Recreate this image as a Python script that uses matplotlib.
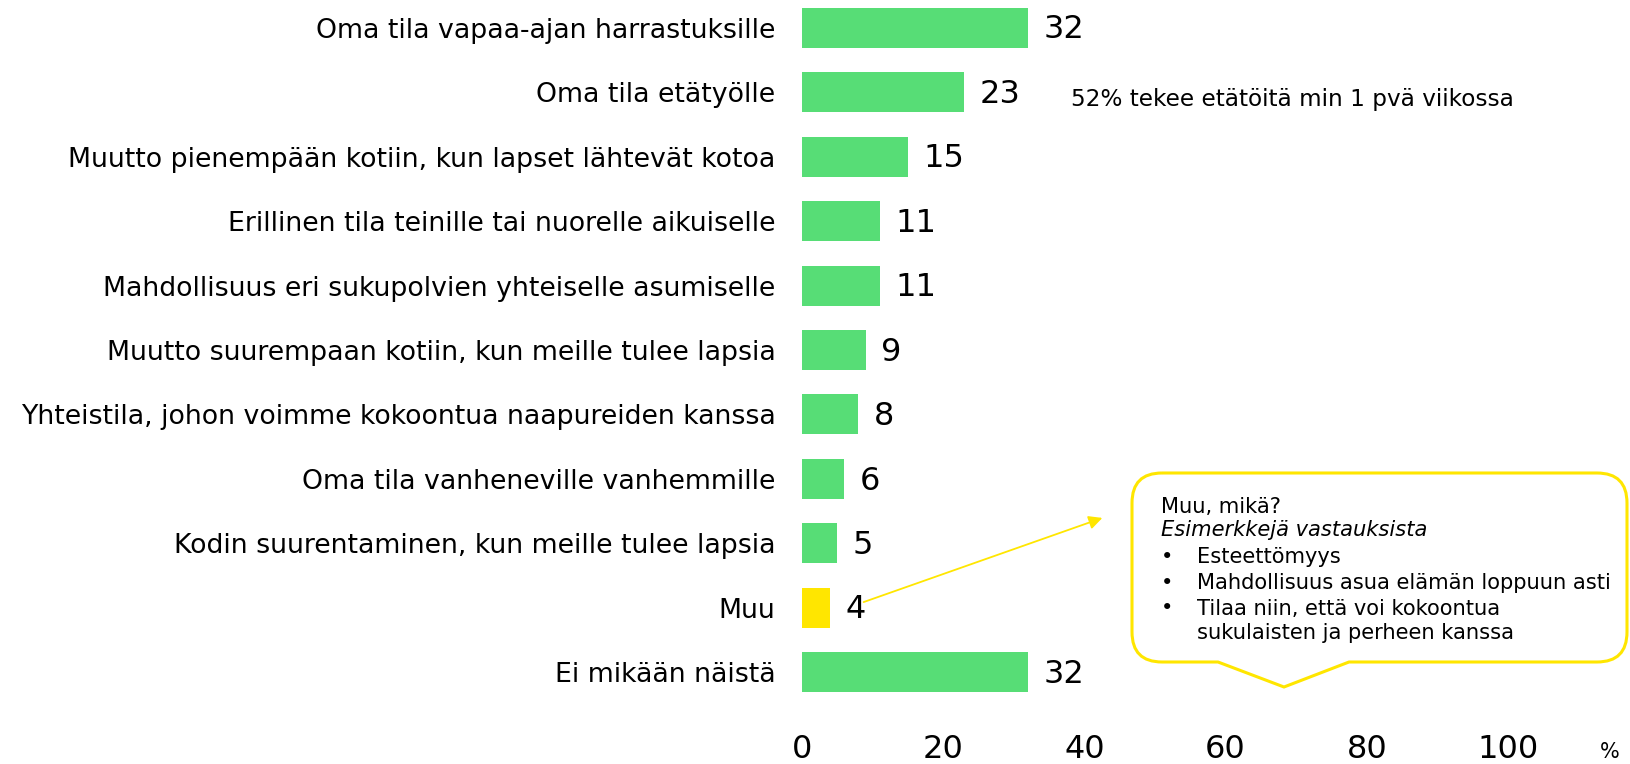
import matplotlib.pyplot as plt
from matplotlib.path import Path
import matplotlib.patches as mpatches
import numpy as np

categories = [
    "Oma tila vapaa-ajan harrastuksille",
    "Oma tila etätyölle",
    "Muutto pienempään kotiin, kun lapset lähtevät kotoa",
    "Erillinen tila teinille tai nuorelle aikuiselle",
    "Mahdollisuus eri sukupolvien yhteiselle asumiselle",
    "Muutto suurempaan kotiin, kun meille tulee lapsia",
    "Yhteistila, johon voimme kokoontua naapureiden kanssa",
    "Oma tila vanheneville vanhemmille",
    "Kodin suurentaminen, kun meille tulee lapsia",
    "Muu",
    "Ei mikään näistä",
]
values = [32, 23, 15, 11, 11, 9, 8, 6, 5, 4, 32]
xticks = [0, 20, 40, 60, 80, 100]
note_text = "52% tekee etätöitä min 1 pvä viikossa"
box_title = "Muu, mikä?"
box_subtitle = "Esimerkkejä vastauksista"
box_bullets = ["Esteettömyys",
               "Mahdollisuus asua elämän loppuun asti",
               "Tilaa niin, että voi kokoontua\nsukulaisten ja perheen kanssa"]

GREEN = "#57DD76"
YELLOW = "#FFE600"

plt.rcParams['font.family'] = ['DejaVu Sans']

W, H = 1630, 764
fig = plt.figure(figsize=(W / 100, H / 100), dpi=100)


def fx(px):
    return px / W


def fy(py):
    return 1 - py / H


ax = fig.add_axes([fx(802), fy(711), fx(1508) - fx(802), fy(0) - fy(711)])

colors = [YELLOW if c == "Muu" else GREEN for c in categories]
y = np.arange(len(categories))
bars = ax.barh(y, values, height=0.62, color=colors)
for b, v in zip(bars, values):
    ax.annotate(str(v), (b.get_width(), b.get_y() + b.get_height() / 2),
                xytext=(11, -1.5), textcoords="offset points",
                va="center", ha="left", fontsize=23)

ax.set_xlim(0, 100)
ax.set_ylim(10.6, -0.43)
ax.set_yticks(y)
ax.set_yticklabels(categories, fontsize=19.3)
ax.set_xticks(xticks)
ax.set_xticklabels([str(t) for t in xticks], fontsize=23)
ax.tick_params(axis="y", length=0, pad=19)
ax.tick_params(axis="x", length=0, pad=16.5)
for s in ax.spines.values():
    s.set_visible(False)

fig.text(fx(1610), fy(752), "%", fontsize=15, ha="center", va="center")

ax.text(38.1, 1.12, note_text, fontsize=16.7, va="center", ha="left")

# callout box with pointer
x0, x1, y0, y1, r = 1132, 1627, 473, 662, 30
pts = [
    (x0 + r, y0), (x1 - r, y0), (x1, y0), (x1, y0 + r),
    (x1, y1 - r), (x1, y1), (x1 - r, y1),
    (1349, y1), (1284, 687), (1218, y1),
    (x0 + r, y1), (x0, y1), (x0, y1 - r),
    (x0, y0 + r), (x0, y0), (x0 + r, y0),
]
codes = [Path.MOVETO, Path.LINETO, Path.CURVE3, Path.CURVE3,
         Path.LINETO, Path.CURVE3, Path.CURVE3,
         Path.LINETO, Path.LINETO, Path.LINETO,
         Path.LINETO, Path.CURVE3, Path.CURVE3,
         Path.LINETO, Path.CURVE3, Path.CURVE3]
path = Path([(fx(a), fy(b)) for a, b in pts], codes)
fig.patches.append(mpatches.PathPatch(path, facecolor="white", edgecolor=YELLOW,
                                      lw=2.2, transform=fig.transFigure))

fs = 15.1
fig.text(fx(1161), fy(507), box_title, fontsize=fs, va="center")
fig.text(fx(1161), fy(530), box_subtitle, fontsize=fs, va="center", style="italic")
for yy, t in zip([557, 583, 608], box_bullets):
    fig.text(fx(1161), fy(yy), "\u2022", fontsize=fs, va="center")
    nl = t.count("\n")
    fig.text(fx(1197), fy(yy + nl * 13), t, fontsize=fs, va="center",
             linespacing=1.24)

ax.annotate("", xy=(1105, H - 517), xycoords="figure pixels",
            xytext=(861, H - 603), textcoords="figure pixels",
            arrowprops=dict(arrowstyle="-|>", color=YELLOW, lw=1.3, mutation_scale=20))

plt.savefig("out.png", dpi=100)
plt.close()
